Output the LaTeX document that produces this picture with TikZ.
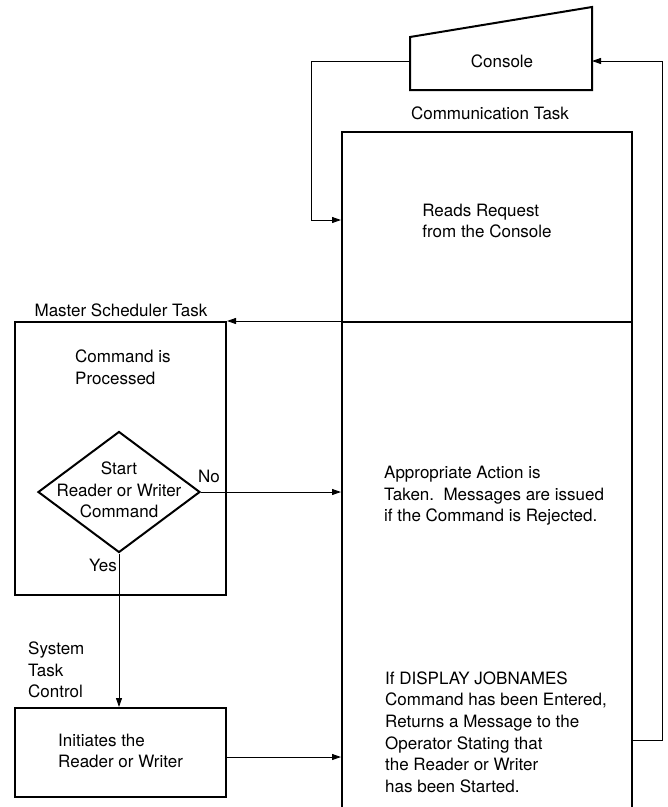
\documentclass[tikz,border=0pt]{standalone}
\usepackage{fontspec}
\setmainfont{TeX Gyre Heros}
\usetikzlibrary{arrows.meta, shapes.geometric, positioning}

\begin{document}
\begin{tikzpicture}[x=1pt, y=-1pt,
    box/.style={draw, line width=2pt, inner sep=0pt},
    link/.style={line width=0.9pt, -{Triangle[length=9pt, width=6pt]}},
    txt/.style={align=left, inner sep=0pt, font=\fontsize{17}{21.6}\selectfont}]

    % Page size, the open bottom of the task column is cut off
    \useasboundingbox (0,0) rectangle (668,807);
    \clip (0,0) rectangle (668,807);

    % Draw the console
    \draw[line width=2pt] (410,37) -- (592,7) -- (592,90) -- (410,90) -- cycle;
    \node[txt] (console) at (502,61) {Console};
    \coordinate (conL) at (410,61);
    \coordinate (conR) at (592,61);

    % Communication task column
    \node[txt] (commLabel) at (490,113) {Communication Task};
    \node[box, minimum width=290pt, minimum height=190pt] (comm) at (487,227) {};
    \node[box, minimum width=290pt, minimum height=508pt] (actionBox) at (487,576) {};
    \node[txt] (commText) at (487,221) {Reads Request\\from the Console};
    \node[txt, anchor=west] (actionText) at (384,496)
        {Appropriate Action is\\Taken.\ \ Messages are issued\\if the Command is Rejected.};
    \node[txt, anchor=west] (displayText) at (385,732)
        {If DISPLAY JOBNAMES\\Command has been Entered,\\Returns a Message to the\\
         Operator Stating that\\the Reader or Writer\\has been Started.};
    \coordinate (retOut) at (632,740);

    % Master scheduler task
    \node[txt] (masterLabel) at (121,310) {Master Scheduler Task};
    \node[box, minimum width=211pt, minimum height=273pt] (master) at (120.5,458.5) {};
    \node[txt, anchor=west] (masterText) at (75,367) {Command is\\Processed};
    \node[box, shape=diamond, minimum width=162pt, minimum height=121pt] (decision) at (119,492) {};
    \node[txt, align=center] (decisionText) at (119,490) {Start\\Reader or Writer\\Command};
    \node[txt] (noLabel) at (209,476) {No};
    \node[txt] (yesLabel) at (103,565) {Yes};

    % System task control
    \node[txt, anchor=west] (stcLabel) at (28,670) {System\\Task\\Control};
    \node[box, minimum width=211pt, minimum height=89pt] (init) at (120.5,752.5) {};
    \node[txt, anchor=west] (initText) at (58,751) {Initiates the\\Reader or Writer};

    % Draw the connectors
    \draw[link] (conL) -- ++(-99,0) |- ([yshift=7pt]comm.west);
    \draw[link] (retOut) -- ++(30,0) |- (conR);
    \draw[link] (actionBox.north west) -- (master.north east);
    \draw[link] (decision.east) -- (decision.east -| actionBox.west);
    \draw[link] (decision.south) -- (decision.south |- init.north);
    \draw[link] ([yshift=-4.5pt]init.east) -- ([yshift=-4.5pt]init.east -| actionBox.west);

\end{tikzpicture}
\end{document}
